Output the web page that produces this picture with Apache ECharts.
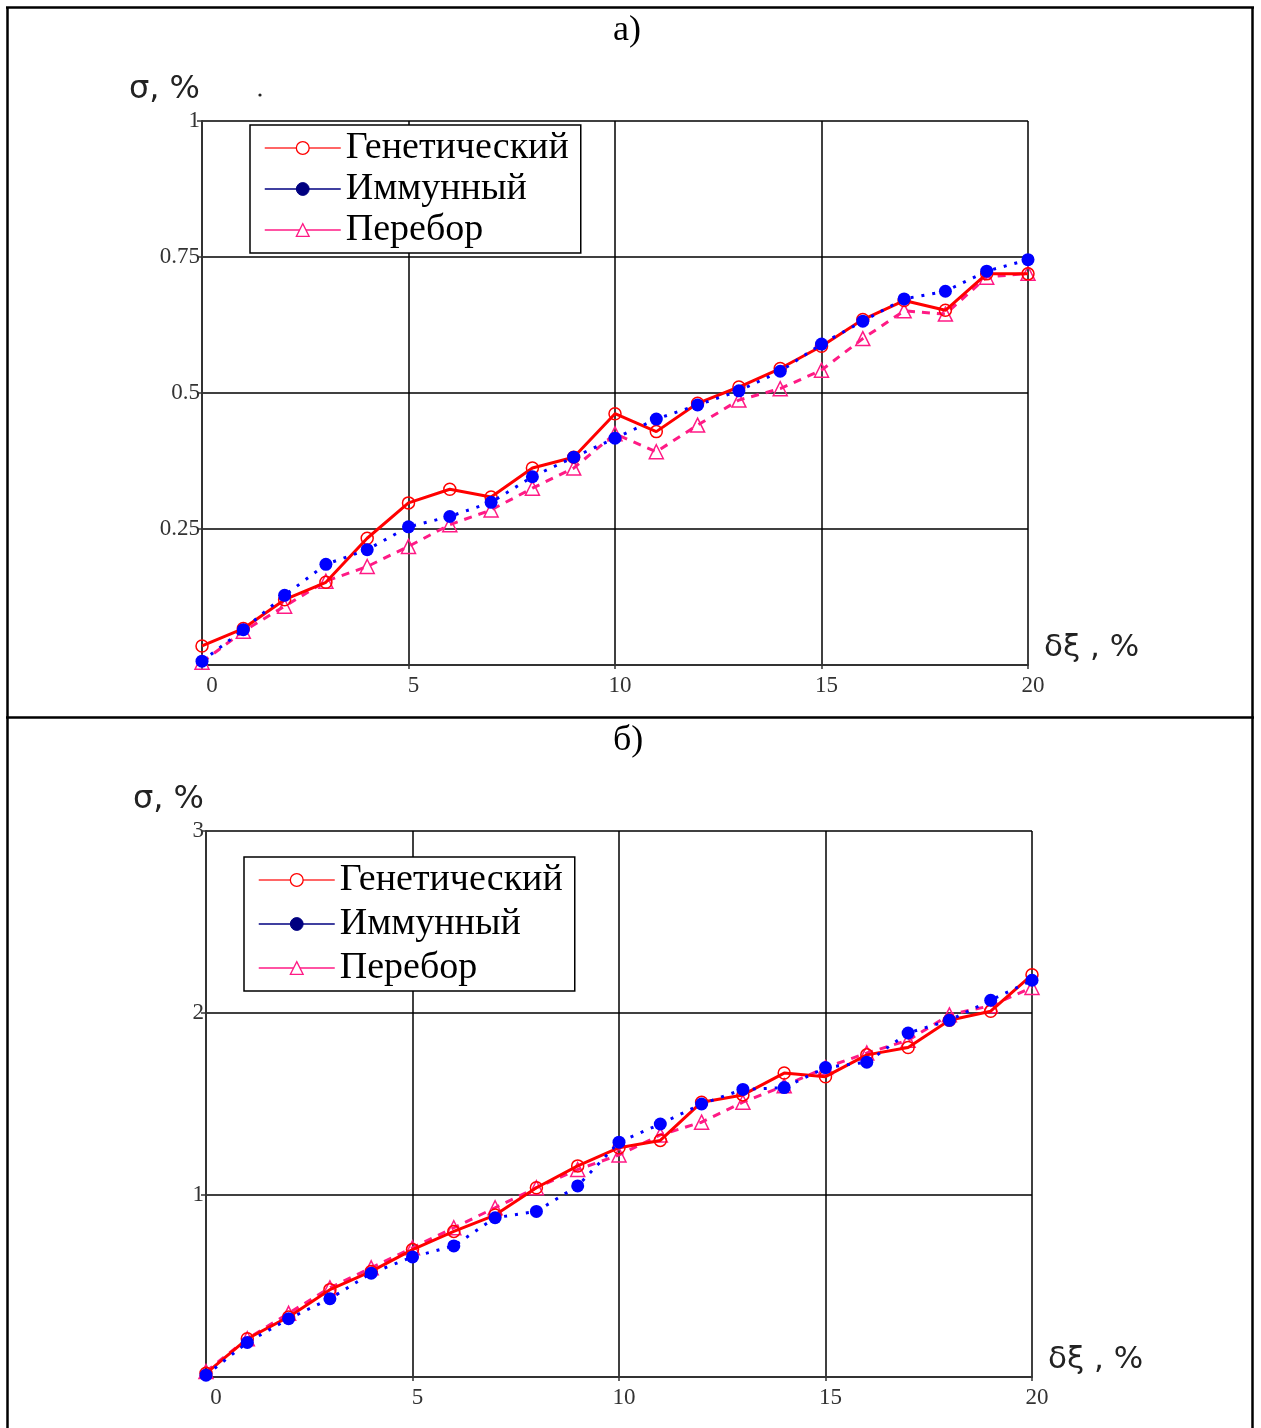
<!DOCTYPE html>
<html>
<head>
<meta charset="utf-8">
<script src="https://cdn.jsdelivr.net/npm/echarts@6/dist/echarts.min.js"></script>
<style>
  html, body { margin: 0; padding: 0; background: #fff; }
  #chart { width: 1261px; height: 1428px; }
</style>
</head>
<body>
<div id="chart"></div>
<script>
// Error level δξ, % (shared by both panels)
const deltaXi = [0, 1, 2, 3, 4, 5, 6, 7, 8, 9, 10, 11, 12, 13, 14, 15, 16, 17, 18, 19, 20];

// Panel а) — σ, %
const geneticA = [0.035, 0.067, 0.12, 0.152, 0.233, 0.298, 0.323, 0.309, 0.362, 0.382, 0.462,
                  0.429, 0.481, 0.511, 0.545, 0.586, 0.635, 0.670, 0.652, 0.719, 0.719];
const immuneA  = [0.007, 0.065, 0.128, 0.185, 0.212, 0.254, 0.273, 0.299, 0.346, 0.382, 0.417,
                  0.452, 0.478, 0.504, 0.540, 0.590, 0.632, 0.673, 0.687, 0.724, 0.745];
const searchA  = [0.005, 0.062, 0.108, 0.154, 0.181, 0.218, 0.258, 0.285, 0.325, 0.362, 0.425,
                  0.392, 0.441, 0.487, 0.508, 0.542, 0.600, 0.651, 0.645, 0.713, 0.720];

// Panel б) — σ, %
const geneticB = [0.02, 0.21, 0.33, 0.48, 0.58, 0.70, 0.80, 0.89, 1.04, 1.16, 1.26,
                  1.30, 1.51, 1.55, 1.67, 1.65, 1.77, 1.81, 1.96, 2.01, 2.21];
const immuneB  = [0.01, 0.19, 0.32, 0.43, 0.57, 0.66, 0.72, 0.875, 0.91, 1.05, 1.29,
                  1.39, 1.50, 1.58, 1.59, 1.70, 1.73, 1.89, 1.96, 2.07, 2.18];
const searchB  = [0.03, 0.21, 0.35, 0.49, 0.60, 0.71, 0.82, 0.93, 1.04, 1.14, 1.22,
                  1.33, 1.40, 1.51, 1.60, 1.70, 1.78, 1.85, 1.99, 2.04, 2.14];

const seriesNames = ['Генетический', 'Иммунный', 'Перебор'];
const panelTitles = ['а)', 'б)'];
const yAxisName = 'σ, %';
const xAxisName = 'δξ , %';

const RED = '#ff0000';
const BLUE = '#0000ff';
const PINK = '#ff1a85';
const SERIF = '"Liberation Serif", "Times New Roman", serif';
const SANS = '"DejaVu Sans", Verdana, sans-serif';

const pairs = arr => deltaXi.map((x, i) => [x, arr[i]]);

function xAxisFor(gridIndex) {
  return {
    type: 'value', gridIndex, min: 0, max: 20, interval: 5,
    name: xAxisName, nameLocation: 'end', nameGap: 16,
    nameTextStyle: { fontFamily: SANS, fontSize: 31, color: '#222', verticalAlign: 'bottom', align: 'left', padding: [0, 0, 2, 0] },
    axisLine: { show: true, onZero: false, lineStyle: { color: '#333', width: 2 } },
    axisTick: { show: true, length: 4, lineStyle: { color: '#333', width: 1.5 } },
    axisLabel: {
      fontFamily: SERIF, fontSize: 23, color: '#333', margin: 9, padding: [0, 0, 0, 10],
      formatter: v => (v === 0 ? '{first|0}' : String(v)),
      rich: { first: { fontFamily: SERIF, fontSize: 23, color: '#333', padding: [0, 0, 0, 10] } }
    },
    splitLine: { show: true, lineStyle: { color: '#000', width: 1.5 } }
  };
}

function yAxisFor(gridIndex, max, interval) {
  return {
    type: 'value', gridIndex, min: 0, max, interval,
    name: yAxisName, nameLocation: 'end', nameGap: 31,
    nameTextStyle: { fontFamily: SANS, fontSize: 32, color: '#222', align: 'right', verticalAlign: 'middle', padding: [0, 2, 0, 0] },
    axisLine: { show: true, onZero: false, lineStyle: { color: '#333', width: 2 } },
    axisTick: { show: true, length: 5, lineStyle: { color: '#333', width: 1.5 } },
    axisLabel: {
      fontFamily: SERIF, fontSize: 23, color: '#333', margin: 2, padding: [4, 0, 0, 0],
      formatter: v => (v === 0 ? '' : String(v))
    },
    splitLine: { show: true, lineStyle: { color: '#000', width: 1.5 } }
  };
}

function seriesFor(idx, gen, imm, srch) {
  return [
    {
      name: seriesNames[2], type: 'line', xAxisIndex: idx, yAxisIndex: idx,
      data: pairs(srch), symbol: 'triangle', symbolSize: 14,
      lineStyle: { color: PINK, width: 3, type: [8, 7] },
      itemStyle: { color: 'rgba(255,255,255,0)', borderColor: PINK, borderWidth: 1.5 },
      emphasis: { disabled: true }, animation: false, z: 2
    },
    {
      name: seriesNames[0], type: 'line', xAxisIndex: idx, yAxisIndex: idx,
      data: pairs(gen), symbol: 'circle', symbolSize: 12,
      lineStyle: { color: RED, width: 3 },
      itemStyle: { color: 'rgba(255,255,255,0)', borderColor: RED, borderWidth: 1.5 },
      emphasis: { disabled: true }, animation: false, z: 3
    },
    {
      name: seriesNames[1], type: 'line', xAxisIndex: idx, yAxisIndex: idx,
      data: pairs(imm), symbol: 'circle', symbolSize: 13,
      lineStyle: { color: BLUE, width: 3, type: [3, 8] },
      itemStyle: { color: BLUE },
      emphasis: { disabled: true }, animation: false, z: 4
    }
  ];
}

function legendFor(left, top, gap) {
  return {
    orient: 'vertical', left, top,
    backgroundColor: '#fff', borderColor: '#000', borderWidth: 1.5, borderRadius: 0,
    padding: [4, 12, 4, 14], itemGap: gap, itemWidth: 76, itemHeight: 16, itemTextGap: 6,
    selectedMode: false,
    textStyle: { fontFamily: SERIF, fontSize: 38, color: '#000' },
    data: [
      { name: seriesNames[0], itemStyle: { color: '#fff', borderColor: RED, borderWidth: 1.3 }, lineStyle: { color: '#ff3333', width: 1.5, type: 'solid' } },
      { name: seriesNames[1], itemStyle: { color: '#000080', borderColor: '#000080', borderWidth: 1 }, lineStyle: { color: '#000080', width: 1.5, type: 'solid' } },
      { name: seriesNames[2], itemStyle: { color: '#fff', borderColor: PINK, borderWidth: 1.3 }, lineStyle: { color: PINK, width: 1.5, type: 'solid' } }
    ]
  };
}

const chart = echarts.init(document.getElementById('chart'), null, { renderer: 'canvas' });

chart.setOption({
  backgroundColor: '#fff',
  animation: false,
  grid: [
    { left: 202, top: 121, width: 826, height: 544 },
    { left: 206, top: 831, width: 826, height: 546 }
  ],
  xAxis: [xAxisFor(0), xAxisFor(1)],
  yAxis: [yAxisFor(0, 1, 0.25), yAxisFor(1, 3, 1)],
  legend: [legendFor(250, 125, 3), legendFor(244, 857, 6)],
  series: [
    ...seriesFor(0, geneticA, immuneA, searchA),
    ...seriesFor(1, geneticB, immuneB, searchB)
  ],
  graphic: [
    // table frame around both panels
    { type: 'line', shape: { x1: 7.5, y1: 7, x2: 7.5, y2: 1428 }, style: { stroke: '#000', lineWidth: 2.5 } },
    { type: 'line', shape: { x1: 1252.5, y1: 7, x2: 1252.5, y2: 1428 }, style: { stroke: '#000', lineWidth: 2.5 } },
    { type: 'line', shape: { x1: 6, y1: 7.5, x2: 1254, y2: 7.5 }, style: { stroke: '#000', lineWidth: 2.5 } },
    { type: 'line', shape: { x1: 6, y1: 717.5, x2: 1254, y2: 717.5 }, style: { stroke: '#000', lineWidth: 2.5 } },
    // panel captions
    { type: 'text', left: 613, top: 13, style: { text: panelTitles[0], font: '36px ' + SERIF, fill: '#000' } },
    { type: 'text', left: 613, top: 723, style: { text: panelTitles[1], font: '36px ' + SERIF, fill: '#000' } },
    // small dot next to the upper axis name
    { type: 'circle', shape: { cx: 260, cy: 95, r: 1.6 }, style: { fill: '#222' } }
  ]
});
</script>
</body>
</html>
